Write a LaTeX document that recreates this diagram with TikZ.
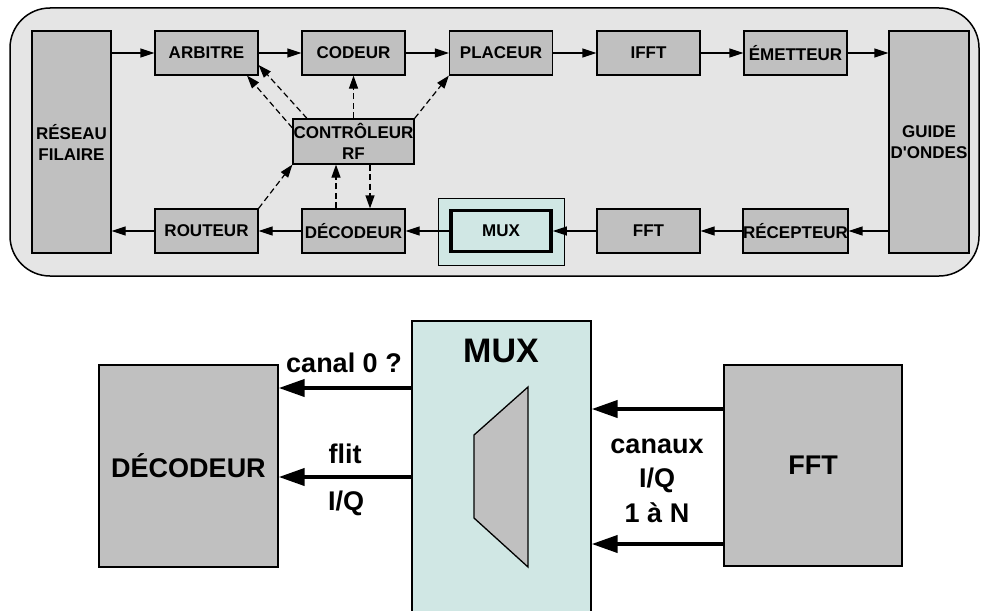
\documentclass[tikz,border=0pt]{standalone}
\usepackage{fontspec}
\setmainfont{Liberation Sans}
\usetikzlibrary{arrows.meta}
\definecolor{fondgris}{RGB}{229,229,229}
\definecolor{blocgris}{RGB}{192,192,192}
\definecolor{muxcyan}{RGB}{208,231,228}

\begin{document}
\begin{tikzpicture}[x=1pt,y=1pt,
  bloc/.style={draw=black,line width=1.2pt,fill=blocgris,align=center,
    font=\fontsize{17}{21}\selectfont\bfseries,minimum width=103pt,minimum height=44pt},
  grandbloc/.style={draw=black,line width=1.3pt,fill=blocgris,
    font=\fontsize{27}{32}\selectfont\bfseries,minimum width=179pt,minimum height=202pt},
  etiq/.style={font=\fontsize{27}{32}\selectfont\bfseries,anchor=base},
  fl/.style={line width=1.2pt,-{Triangle[length=14pt,width=9pt]}},
  ctl/.style={line width=1.2pt,dash pattern=on 6pt off 3.5pt,-{Triangle[length=13pt,width=9pt]}},
  grossefl/.style={line width=4pt,-{Triangle[length=26pt,width=17pt]}}]
  \tikzstyle{every node}+=[inner sep=0pt]
  \useasboundingbox (0,0) rectangle (981,-610);
  \draw [black,line width=1.5pt,fill=fondgris,rounded corners=40pt] (10,-8) rectangle (979,-276);
  \node [bloc,minimum width=79pt,minimum height=222pt] (reseau) at (71.5,-142) {RÉSEAU\\FILAIRE};
  \node [bloc] (arbitre) at (206.5,-53) {ARBITRE};
  \node [bloc] (codeur) at (353.5,-53) {CODEUR};
  \node [bloc] (placeur) at (501,-53) {PLACEUR};
  \node [bloc] (ifft) at (648.5,-53) {IFFT};
  \node [bloc] (emetteur) at (795.5,-53) {ÉMETTEUR};
  \node [bloc,minimum width=80pt,minimum height=222pt] (guide) at (929,-142) {GUIDE\\D\textquotesingle ONDES};
  \node [bloc] (routeur) at (206.5,-231) {ROUTEUR};
  \node [bloc] (decodeur) at (353.5,-231) {DÉCODEUR};
  \node [draw=black,line width=0.9pt,fill=muxcyan,minimum width=126pt,minimum height=67pt] (muxcadre) at (501,-231.5) {};
  \node [bloc,fill=muxcyan,line width=3.5pt,minimum width=100pt,minimum height=41pt] (mux) at (501,-231) {MUX};
  \node [bloc] (fft) at (648.5,-231) {FFT};
  \node [bloc] (recepteur) at (795.5,-231) {RÉCEPTEUR};
  \node [bloc,minimum width=121pt,minimum height=45pt] (ctrl) at (353.5,-141.5) {CONTRÔLEUR\\RF};
  \draw [fl] (reseau.east |- arbitre) -- (arbitre);
  \draw [fl] (arbitre) -- (codeur);
  \draw [fl] (codeur) -- (placeur);
  \draw [fl] (placeur) -- (ifft);
  \draw [fl] (ifft) -- (emetteur);
  \draw [fl] (emetteur) -- (guide.west |- emetteur);
  \draw [fl] (guide.west |- recepteur) -- (recepteur);
  \draw [fl] (recepteur) -- (fft);
  \draw [fl] (fft) -- (mux);
  \draw [fl] (mux) -- (decodeur);
  \draw [fl] (decodeur) -- (routeur);
  \draw [fl] (routeur) -- (routeur -| reseau.east);
  \draw [ctl] ([xshift=-46.5pt]ctrl.north) -- ([yshift=-12pt]arbitre.east);
  \draw [ctl] ([yshift=13.5pt]ctrl.west) -- ([xshift=40.5pt]arbitre.south);
  \draw [ctl] (ctrl.north) -- (codeur.south);
  \draw [ctl] (ctrl.north east) -- (placeur.south west);
  \draw [ctl] (routeur.north east) -- (ctrl.south west);
  \draw [ctl] ([xshift=-17.5pt]decodeur.north) -- ([xshift=-17.5pt]ctrl.south);
  \draw [ctl] ([xshift=16.5pt]ctrl.south) -- ([xshift=16.5pt]decodeur.north);
  \node [grandbloc] (decodeur2) at (188.5,-466) {DÉCODEUR};
  \node [draw=black,line width=1.3pt,fill=muxcyan,minimum width=179pt,minimum height=292pt] (mux2) at (501.5,-467) {};
  \node [etiq,font=\fontsize{34}{38}\selectfont\bfseries] (muxtitre) at (501,-362) {MUX};
  \draw [black,line width=1.3pt,fill=blocgris] (474,-435) -- (528,-387) -- (528,-567) -- (474,-518) -- cycle;
  \node [grandbloc,minimum width=178pt,minimum height=201pt] (fft2) at (813,-465.5) {FFT};
  \draw [grossefl] (mux2.west |- 0,-388) -- (decodeur2.east |- 0,-388);
  \draw [grossefl] (mux2.west |- 0,-477) -- (decodeur2.east |- 0,-477);
  \draw [grossefl] (fft2.west |- 0,-409) -- (mux2.east |- 0,-409);
  \draw [grossefl] (fft2.west |- 0,-544) -- (mux2.east |- 0,-544);
  \node [etiq] (canal) at (344,-372) {canal 0 ?};
  \node [etiq] (flit) at (345,-463) {flit};
  \node [etiq] (iq1) at (346,-510) {I/Q};
  \node [etiq] (canaux) at (657,-453) {canaux};
  \node [etiq] (iq2) at (657,-487) {I/Q};
  \node [etiq] (unan) at (657,-522) {1 à N};
\end{tikzpicture}
\end{document}
